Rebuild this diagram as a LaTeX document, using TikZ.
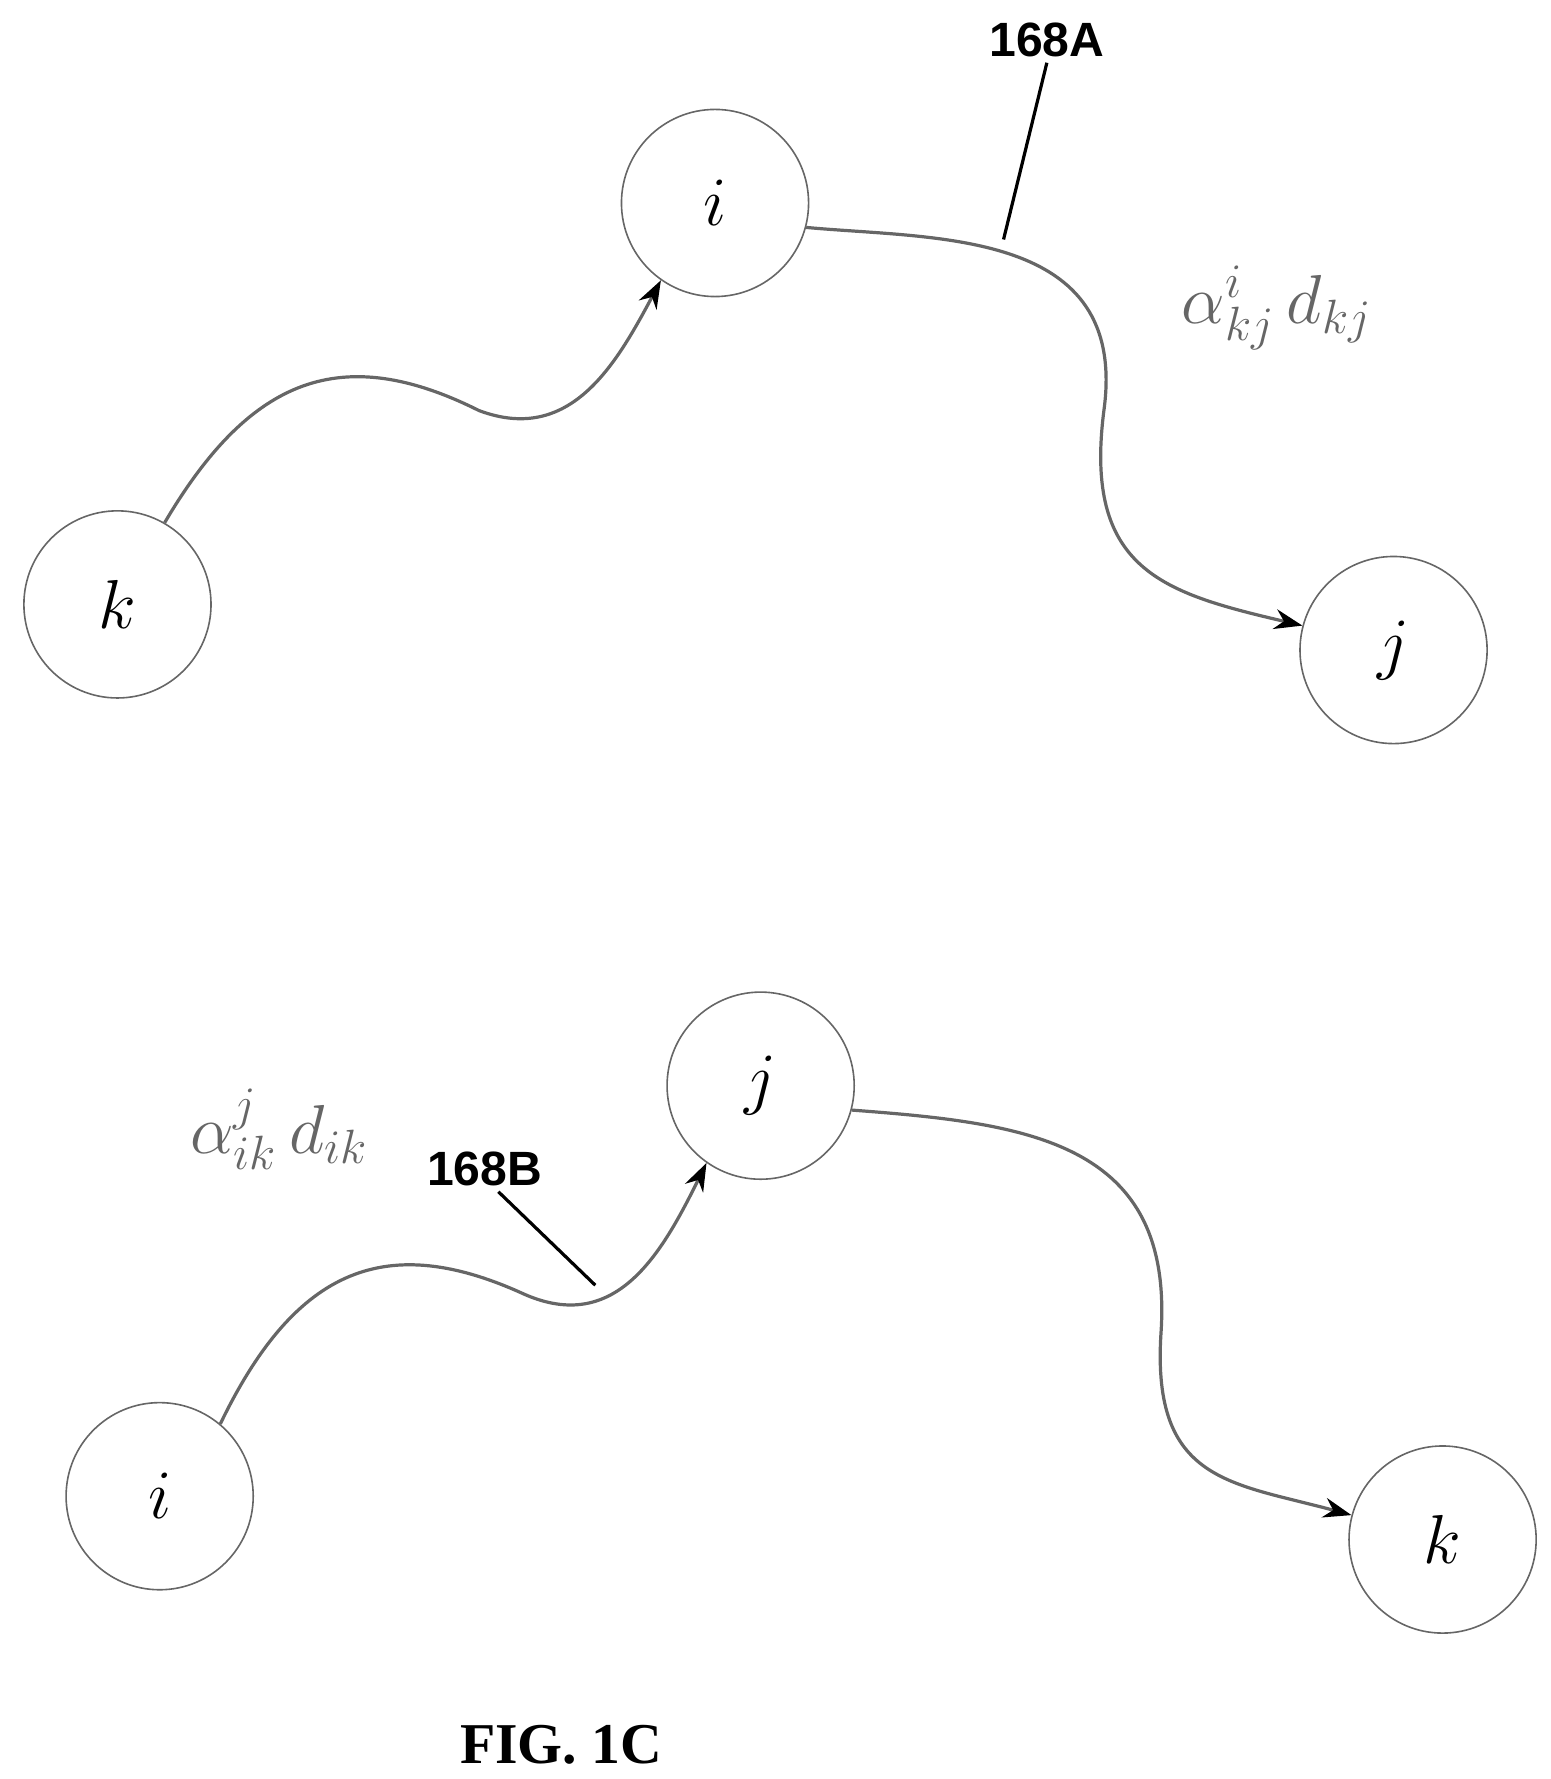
\documentclass[tikz,border=0pt]{standalone}
\usepackage{fontspec}
\newfontfamily\refsans{Liberation Sans}
\newfontfamily\figserif{Liberation Serif}
\usetikzlibrary{arrows.meta}
\tikzset{
  vertex/.style={circle, draw=black!60, minimum size=1.64cm, inner sep=0pt, font=\LARGE},
  edge/.style={draw=black!60, thick, -{Stealth[length=7pt,width=5pt,black]}},
  leader/.style={draw=black, thick},
  refnum/.style={font=\refsans\bfseries\large},
  weight/.style={text=black!60, font=\LARGE}
}
\begin{document}
\begin{tikzpicture}[x=0.01cm,y=-0.01cm]
  \useasboundingbox (0,0) rectangle (1360,1560);
  % upper path k -> i -> j
  \node[vertex] (ki) at (627,178) {$i$};
  \node[vertex] (kk) at (103,530) {$k$};
  \node[vertex] (kj) at (1222,570) {$j$};
  \draw[edge] (kk.60) .. controls (220,330) and (300,300) .. (420,360)
     .. controls (500,390) and (540,320) .. (ki.-125);
  \draw[edge] (ki.-15) .. controls (820,210) and (990,200) .. (968,360)
     .. controls (950,500) and (1020,520) .. (kj.165);
  \coordinate (a1) at (918,55);
  \coordinate (a2) at (880,210);
  \draw[leader] (a1) -- (a2);
  \node[refnum] (r168a) at (918,35) {168A};
  \node[weight] (wkj) at (1120,270) {$\alpha^{i}_{kj}\,d_{kj}$};
  % lower path i -> j -> k
  \node[vertex] (lj) at (667,952) {$j$};
  \node[vertex] (li) at (140,1312) {$i$};
  \node[vertex] (lk) at (1265,1350) {$k$};
  \draw[edge] (li.50) .. controls (260,1110) and (340,1080) .. (460,1135)
     .. controls (540,1170) and (580,1100) .. (lj.-125);
  \draw[edge] (lj.-15) .. controls (900,985) and (1030,1000) .. (1018,1170)
     .. controls (1010,1300) and (1080,1300) .. (lk.165);
  \coordinate (b1) at (437,1045);
  \coordinate (b2) at (522,1127);
  \draw[leader] (b1) -- (b2);
  \node[refnum] (r168b) at (425,1025) {168B};
  \node[weight] (wik) at (245,990) {$\alpha^{j}_{ik}\,d_{ik}$};
  \node[font=\figserif\bfseries\Large] (fig) at (492,1530) {FIG. 1C};
\end{tikzpicture}
\end{document}
